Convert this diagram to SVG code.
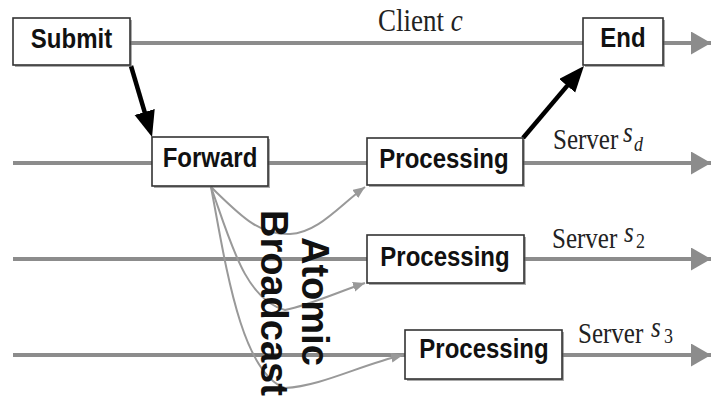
<svg xmlns="http://www.w3.org/2000/svg" width="712" height="406" viewBox="0 0 712 406">
<defs>
<style>
.lane{stroke:#8c8c8c;stroke-width:4;fill:none}
.bc{stroke:#999;stroke-width:2;fill:none}
.blk{stroke:#000;stroke-width:4.5;fill:none}
.box{fill:#fff;stroke:#333;stroke-width:1.6}
.shd{fill:#666;opacity:0.55}
.bt{font-family:"Liberation Sans",Arial,sans-serif;font-weight:bold;font-size:24px;fill:#111;text-anchor:middle}
.st{font-family:"Liberation Serif","Times New Roman",serif;font-size:25px;fill:#222}
.mi{font-family:"Liberation Serif","Times New Roman",serif;font-style:italic;fill:#222}
.ab{font-family:"Liberation Sans",Arial,sans-serif;font-weight:bold;font-size:38px;fill:#111}
</style>
<marker id="ga" markerUnits="userSpaceOnUse" markerWidth="22" markerHeight="24" refX="20" refY="11.5" orient="auto">
<path d="M0,0 L20,11.5 L0,23 z" fill="#8c8c8c"/>
</marker>
<marker id="ba" markerUnits="userSpaceOnUse" markerWidth="28" markerHeight="22" refX="16" refY="10.5" orient="auto">
<path d="M0,0 L26,10.5 L0,21 z" fill="#000"/>
</marker>
<marker id="sa" markerUnits="userSpaceOnUse" markerWidth="14" markerHeight="12" refX="12" refY="5" orient="auto">
<path d="M0,0 L12,5 L0,10 z" fill="#999"/>
</marker>
</defs>
<rect width="712" height="406" fill="#fff"/>

<g id="connectors">
<line class="lane" x1="70" y1="43" x2="711" y2="43" marker-end="url(#ga)"/>
<line class="lane" x1="13" y1="163" x2="711" y2="163" marker-end="url(#ga)"/>
<line class="lane" x1="13" y1="259" x2="711" y2="259" marker-end="url(#ga)"/>
<line class="lane" x1="13" y1="355" x2="711" y2="355" marker-end="url(#ga)"/>
<path class="bc" d="M211,187 C240,215 258,235 290,234 C318,233 340,205 365,187" marker-end="url(#sa)"/>
<path class="bc" d="M211,187 C230,240 245,300 285,310 C310,305 338,292 365,283" marker-end="url(#sa)"/>
<path class="bc" d="M211,187 C225,260 240,372 285,388 C322,386 360,365 403,355" marker-end="url(#sa)"/>
<line class="blk" x1="131" y1="66" x2="149.2" y2="127.4" marker-end="url(#ba)"/>
<line class="blk" x1="523" y1="138" x2="577.5" y2="73.6" marker-end="url(#ba)"/>
</g>

<g id="submit">
<rect class="shd" x="15" y="20" width="117" height="47"/>
<rect class="box" x="13" y="18" width="117" height="47"/>
<text class="bt" transform="translate(71.5,48) scale(1,1.18)">Submit</text>
</g>
<g id="end">
<rect class="shd" x="585" y="20" width="80" height="47"/>
<rect class="box" x="583" y="18" width="80" height="47"/>
<text class="bt" transform="translate(623,47) scale(1,1.18)">End</text>
</g>
<g id="forward">
<rect class="shd" x="154" y="139" width="116" height="49"/>
<rect class="box" x="152" y="137" width="116" height="49"/>
<text class="bt" transform="translate(210,167) scale(1,1.18)">Forward</text>
</g>
<g id="processing-sd">
<rect class="shd" x="369" y="140" width="156" height="47"/>
<rect class="box" x="367" y="138" width="156" height="47"/>
<text class="bt" transform="translate(444,168) scale(1,1.18)">Processing</text>
</g>
<g id="processing-s2">
<rect class="shd" x="369" y="237" width="157" height="48"/>
<rect class="box" x="367" y="235" width="157" height="48"/>
<text class="bt" transform="translate(445,266) scale(1,1.18)">Processing</text>
</g>
<g id="processing-s3">
<rect class="shd" x="407" y="332" width="157" height="49"/>
<rect class="box" x="405" y="330" width="157" height="49"/>
<text class="bt" transform="translate(484,358) scale(1,1.18)">Processing</text>
</g>

<g id="labels">
<text class="st" transform="translate(378,31) scale(1,1.15)" style="font-size:27px">Client <tspan class="mi">c</tspan></text>
<g transform="translate(553,149) scale(1,1.15)">
<text class="st" x="0" y="0">Server</text>
<text class="mi" x="70" y="-6" style="font-size:25px">s</text>
<text class="mi" x="81" y="2" style="font-size:18px">d</text>
</g>
<g transform="translate(552,248) scale(1,1.15)">
<text class="st" x="0" y="0">Server</text>
<text class="mi" x="72" y="-5" style="font-size:25px">s</text>
<text class="st" x="84" y="0" style="font-size:18px">2</text>
</g>
<g transform="translate(578,343) scale(1,1.15)">
<text class="st" x="0" y="0">Server</text>
<text class="mi" x="73" y="-5" style="font-size:25px">s</text>
<text class="st" x="86" y="0" style="font-size:18px">3</text>
</g>
<g id="atomic-broadcast">
<text class="ab" transform="translate(302,237) rotate(90)">Atomic</text>
<text class="ab" transform="translate(261,210) rotate(90)">Broadcast</text>
</g>
</g>
</svg>
